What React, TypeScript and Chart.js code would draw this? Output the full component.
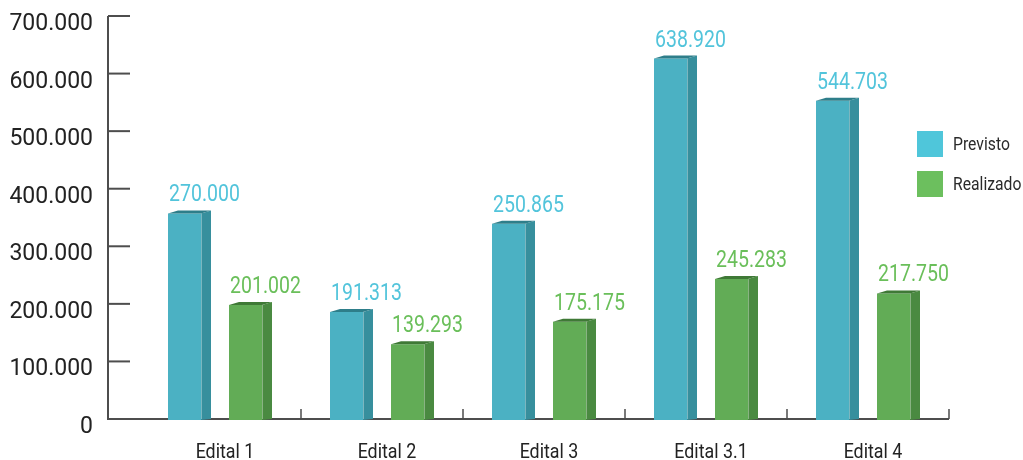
import { useEffect, useRef } from 'react';
import { Chart, registerables } from 'chart.js';

Chart.register(...registerables);

const categories = ['Edital 1', 'Edital 2', 'Edital 3', 'Edital 3.1', 'Edital 4'];
const previstoBars = [357000, 186000, 339000, 626000, 553000];
const realizadoBars = [198000, 130000, 169000, 243000, 218000];
const previstoLabels = ['270.000', '191.313', '250.865', '638.920', '544.703'];
const realizadoLabels = ['201.002', '139.293', '175.175', '245.283', '217.750'];
const yTickValues = [0, 100000, 200000, 300000, 400000, 500000, 600000, 700000];
const yTickLabels = ['0', '100.000', '200.000', '300.000', '400.000', '500.000', '600.000', '700.000'];
const seriesNames = ['Previsto', 'Realizado'];

const FRONT = ['#4bb1c3', '#62ac56'];
const SIDE = ['#378f9d', '#4a8a41'];
const TOP = ['#2e7e8a', '#3f7936'];
const LABEL = ['#52c4db', '#6abf5a'];
const LEGEND = ['#4fc6da', '#6cbf5e'];
const FONT = 'Roboto, sans-serif';
const AXIS = '#4d4d4d';

function drawText(
  ctx: CanvasRenderingContext2D,
  text: string,
  x: number,
  y: number,
  align: CanvasTextAlign,
  sx: number,
) {
  ctx.save();
  ctx.translate(x, y);
  ctx.scale(sx, 1);
  ctx.textAlign = align;
  ctx.textBaseline = 'alphabetic';
  ctx.fillText(text, 0, 0);
  ctx.restore();
}

export default function App() {
  const ref = useRef<HTMLCanvasElement>(null);

  useEffect(() => {
    const canvas = ref.current;
    if (!canvas) return;

    const axisPlugin = {
      id: 'axes3d',
      beforeDatasetsDraw(chart: any) {
        const ctx = chart.ctx as CanvasRenderingContext2D;
        const x = chart.scales.x;
        const y = chart.scales.y;
        const axisX = 108;
        const base = y.getPixelForValue(0);
        ctx.save();
        ctx.strokeStyle = AXIS;
        ctx.lineWidth = 2;
        // y axis
        ctx.beginPath();
        ctx.moveTo(axisX, y.getPixelForValue(yTickValues[yTickValues.length - 1]));
        ctx.lineTo(axisX, base + 1);
        ctx.stroke();
        // y ticks
        yTickValues.forEach((v) => {
          const py = y.getPixelForValue(v);
          ctx.beginPath();
          ctx.moveTo(axisX, py);
          ctx.lineTo(axisX + 22, py);
          ctx.stroke();
        });
        // x axis
        ctx.beginPath();
        ctx.moveTo(axisX - 1, base);
        ctx.lineTo(x.right, base);
        ctx.stroke();
        // x ticks at category boundaries
        ctx.lineWidth = 1.5;
        for (let i = 1; i <= categories.length; i++) {
          const bx = i < categories.length
            ? (x.getPixelForValue(i - 1) + x.getPixelForValue(i)) / 2
            : x.right;
          ctx.beginPath();
          ctx.moveTo(bx, base);
          ctx.lineTo(bx, base - 10);
          ctx.stroke();
        }
        // y tick labels
        ctx.fillStyle = '#222';
        ctx.font = '23px ' + FONT;
        yTickValues.forEach((v, i) => {
          const py = y.getPixelForValue(v);
          drawText(ctx, yTickLabels[i], 93, py + 14, 'right', 1);
        });
        // category labels
        ctx.font = '21px ' + FONT;
        categories.forEach((c, i) => {
          drawText(ctx, c, x.getPixelForValue(i) + 5, 458, 'center', 0.85);
        });
        // legend
        ctx.font = '18.5px ' + FONT;
        seriesNames.forEach((n, i) => {
          ctx.fillStyle = LEGEND[i];
          ctx.fillRect(917, 131 + i * 40, 26, 26);
          ctx.fillStyle = '#2a2a2a';
          drawText(ctx, n, 953, 150 + i * 40, 'left', 0.85);
        });
        ctx.restore();
      },
      afterDatasetsDraw(chart: any) {
        const ctx = chart.ctx as CanvasRenderingContext2D;
        const labelSets = [previstoLabels, realizadoLabels];
        ctx.save();
        chart.data.datasets.forEach((_ds: any, di: number) => {
          const meta = chart.getDatasetMeta(di);
          meta.data.forEach((el: any, i: number) => {
            const { x, y, base, width } = el.getProps(['x', 'y', 'base', 'width'], true);
            const L = x - width / 2;
            const F = x + width / 2 - 10;
            const R = x + width / 2;
            // side face
            ctx.fillStyle = SIDE[di];
            ctx.beginPath();
            ctx.moveTo(F, y);
            ctx.lineTo(R, y - 3);
            ctx.lineTo(R, base);
            ctx.lineTo(F, base + 1);
            ctx.closePath();
            ctx.fill();
            // top face
            ctx.fillStyle = TOP[di];
            ctx.beginPath();
            ctx.moveTo(L, y);
            ctx.lineTo(L + 10, y - 3);
            ctx.lineTo(R, y - 3);
            ctx.lineTo(F, y);
            ctx.closePath();
            ctx.fill();
            // front bottom overlap
            ctx.fillStyle = FRONT[di];
            ctx.fillRect(L, base - 1, F - L, 2);
            // edge highlight
            ctx.strokeStyle = 'rgba(255,255,255,0.35)';
            ctx.lineWidth = 1;
            ctx.beginPath();
            ctx.moveTo(F + 0.5, y);
            ctx.lineTo(F + 0.5, base);
            ctx.stroke();
            // value label
            ctx.fillStyle = LABEL[di];
            ctx.font = '23.5px ' + FONT;
            drawText(ctx, labelSets[di][i], L + 1, y - 12, 'left', 0.83);
          });
        });
        ctx.restore();
      },
    };

    const chart = new Chart(canvas, {
      type: 'bar',
      data: {
        labels: categories,
        datasets: [
          {
            label: seriesNames[0],
            data: previstoBars,
            backgroundColor: FRONT[0],
            borderWidth: 0,
            categoryPercentage: 122 / 162,
            barPercentage: 43 / 61,
          },
          {
            label: seriesNames[1],
            data: realizadoBars,
            backgroundColor: FRONT[1],
            borderWidth: 0,
            categoryPercentage: 122 / 162,
            barPercentage: 43 / 61,
          },
        ],
      },
      options: {
        responsive: false,
        animation: false,
        devicePixelRatio: 1,
        layout: { padding: { left: 139, right: 74, top: 16, bottom: 41 } },
        plugins: { legend: { display: false }, tooltip: { enabled: false } },
        scales: {
          x: { display: false },
          y: { display: false, min: 0, max: 700000 },
        },
      },
      plugins: [axisPlugin],
    });

    return () => chart.destroy();
  }, []);

  return (
    <div style={{ position: 'fixed', left: 0, top: 0, width: 1023, height: 460, background: '#fff' }}>
      <canvas ref={ref} width={1023} height={460} style={{ display: 'block', width: 1023, height: 460 }} />
    </div>
  );
}
